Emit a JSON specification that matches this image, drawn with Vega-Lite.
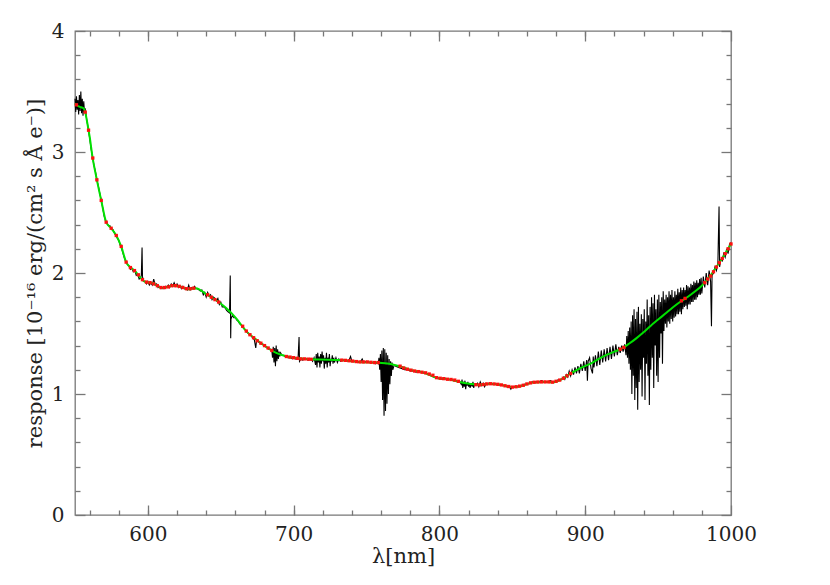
{
"$schema": "https://vega.github.io/schema/vega-lite/v6.json",
"width": 656, "height": 484,
"autosize": {"type": "none"},
"padding": {"left": 75, "top": 31, "right": 99, "bottom": 70},
"background": "white",
"config": {
 "view": {"stroke": "#777", "strokeWidth": 1.3},
 "axis": {"domain": false, "grid": false, "tickColor": "#777", "tickWidth": 1.3, "labelFont": "DejaVu Serif", "labelFontSize": 20, "labelColor": "#222", "labelFlush": false, "labelOverlap": false, "titleFont": "DejaVu Serif", "titleFontSize": 21, "titleFontWeight": "normal", "titleColor": "#222"}
},
"datasets": {
 "spec": [
{"wl":550,"r":3.44},{"wl":550.5,"r":3.33},{"wl":551,"r":3.46},{"wl":551.5,"r":3.35},{"wl":552,"r":3.43},{"wl":552.5,"r":3.31},{"wl":553,"r":3.47},{"wl":553.5,"r":3.34},{"wl":554,"r":3.5},{"wl":554.5,"r":3.32},{"wl":555,"r":3.44},{"wl":555.5,"r":3.3},{"wl":556,"r":3.42},{"wl":556.5,"r":3.33},{"wl":557,"r":3.36},
{"wl":558,"r":3.27},{"wl":559,"r":3.2},{"wl":560,"r":3.12},{"wl":561,"r":3.03},{"wl":562,"r":2.96},{"wl":563,"r":2.89},{"wl":564,"r":2.84},{"wl":565,"r":2.77},{"wl":566,"r":2.72},{"wl":567,"r":2.66},{"wl":568,"r":2.6},{"wl":569,"r":2.54},{"wl":570,"r":2.47},{"wl":571,"r":2.43},{"wl":572,"r":2.41},{"wl":573,"r":2.39},{"wl":574,"r":2.39},{"wl":575,"r":2.36},{"wl":576,"r":2.36},{"wl":577,"r":2.33},{"wl":578,"r":2.31},{"wl":579,"r":2.29},{"wl":580,"r":2.27},{"wl":581,"r":2.23},{"wl":582,"r":2.2},{"wl":583,"r":2.16},{"wl":584,"r":2.12},{"wl":585,"r":2.09},{"wl":586,"r":2.07},{"wl":587,"r":2.06},{"wl":588,"r":2.03},{"wl":589,"r":2.04},{"wl":590,"r":2.01},{"wl":591,"r":2.02},{"wl":592,"r":1.98},{"wl":593,"r":1.99},{"wl":594,"r":1.95},{"wl":595,"r":1.96},{"wl":595.5,"r":1.98},{"wl":596,"r":2.21},{"wl":596.3,"r":1.97},{"wl":597,"r":1.93},{"wl":598,"r":1.93},{"wl":599,"r":1.91},
{"wl":600,"r":1.93},{"wl":601,"r":1.9},{"wl":602,"r":1.92},{"wl":603,"r":1.9},{"wl":604,"r":1.95},{"wl":605,"r":1.9},{"wl":606,"r":1.91},{"wl":607,"r":1.88},{"wl":608,"r":1.89},{"wl":609,"r":1.87},{"wl":610,"r":1.88},{"wl":611,"r":1.87},{"wl":612,"r":1.89},{"wl":613,"r":1.88},{"wl":614,"r":1.9},{"wl":615,"r":1.88},{"wl":616,"r":1.91},{"wl":617,"r":1.89},{"wl":618,"r":1.92},{"wl":619,"r":1.89},{"wl":620,"r":1.91},{"wl":621,"r":1.88},{"wl":622,"r":1.89},{"wl":623,"r":1.87},{"wl":624,"r":1.89},{"wl":625,"r":1.87},{"wl":626,"r":1.88},{"wl":627,"r":1.86},{"wl":628,"r":1.9},{"wl":629,"r":1.86},{"wl":630,"r":1.88},{"wl":631,"r":1.87},{"wl":632,"r":1.89},{"wl":633,"r":1.87},{"wl":634,"r":1.87},{"wl":635,"r":1.86},{"wl":636,"r":1.85},{"wl":637,"r":1.86},{"wl":638,"r":1.82},{"wl":639,"r":1.84},{"wl":640,"r":1.8},{"wl":641,"r":1.84},{"wl":642,"r":1.81},{"wl":643,"r":1.82},{"wl":644,"r":1.78},{"wl":645,"r":1.8},{"wl":646,"r":1.79},{"wl":647,"r":1.77},{"wl":648,"r":1.79},{"wl":649,"r":1.74},{"wl":650,"r":1.76},{"wl":651,"r":1.72},{"wl":652,"r":1.72},{"wl":653,"r":1.71},{"wl":654,"r":1.69},{"wl":655,"r":1.68},{"wl":656,"r":1.67},{"wl":656.5,"r":1.98},{"wl":656.8,"r":1.46},{"wl":657,"r":1.62},{"wl":658,"r":1.65},{"wl":659,"r":1.63},{"wl":660,"r":1.63},{"wl":661,"r":1.61},{"wl":662,"r":1.6},{"wl":663,"r":1.58},{"wl":664,"r":1.57},{"wl":665,"r":1.56},{"wl":666,"r":1.54},{"wl":667,"r":1.53},{"wl":668,"r":1.51},{"wl":669,"r":1.5},{"wl":670,"r":1.49},{"wl":671,"r":1.48},{"wl":672,"r":1.46},{"wl":673,"r":1.45},{"wl":674,"r":1.38},{"wl":674.5,"r":1.44},{"wl":675,"r":1.44},{"wl":676,"r":1.43},{"wl":677,"r":1.42},{"wl":678,"r":1.41},{"wl":679,"r":1.41},{"wl":680,"r":1.4},{"wl":681,"r":1.39},{"wl":682,"r":1.38},{"wl":683,"r":1.37},{"wl":684,"r":1.37},{"wl":685,"r":1.36},{"wl":685.5,"r":1.3},{"wl":686,"r":1.39},{"wl":686.5,"r":1.26},{"wl":687,"r":1.38},{"wl":687.5,"r":1.23},{"wl":688,"r":1.4},{"wl":688.5,"r":1.27},{"wl":689,"r":1.37},{"wl":689.5,"r":1.29},{"wl":690,"r":1.35},{"wl":690.5,"r":1.31},{"wl":691,"r":1.34},{"wl":692,"r":1.32},{"wl":693,"r":1.32},{"wl":694,"r":1.31},{"wl":695,"r":1.31},{"wl":696,"r":1.3},{"wl":697,"r":1.3},{"wl":698,"r":1.3},{"wl":699,"r":1.29},
{"wl":700,"r":1.3},{"wl":701,"r":1.29},{"wl":702,"r":1.29},{"wl":703,"r":1.29},{"wl":703.7,"r":1.47},{"wl":704,"r":1.27},{"wl":705,"r":1.29},{"wl":706,"r":1.28},{"wl":708,"r":1.29},{"wl":710,"r":1.28},{"wl":712,"r":1.29},{"wl":713,"r":1.27},{"wl":714,"r":1.3},{"wl":715,"r":1.24},{"wl":715.5,"r":1.33},{"wl":716,"r":1.22},{"wl":716.5,"r":1.34},{"wl":717,"r":1.26},{"wl":717.5,"r":1.31},{"wl":718,"r":1.22},{"wl":718.5,"r":1.33},{"wl":719,"r":1.25},{"wl":719.5,"r":1.35},{"wl":720,"r":1.27},{"wl":720.5,"r":1.32},{"wl":721,"r":1.21},{"wl":721.5,"r":1.3},{"wl":722,"r":1.25},{"wl":722.5,"r":1.34},{"wl":723,"r":1.22},{"wl":723.5,"r":1.3},{"wl":724,"r":1.26},{"wl":724.5,"r":1.33},{"wl":725,"r":1.23},{"wl":725.5,"r":1.29},{"wl":726,"r":1.27},{"wl":726.5,"r":1.32},{"wl":727,"r":1.25},{"wl":727.5,"r":1.3},{"wl":728,"r":1.26},{"wl":729,"r":1.3},{"wl":730,"r":1.26},{"wl":731,"r":1.29},{"wl":732,"r":1.27},{"wl":734,"r":1.28},{"wl":736,"r":1.27},{"wl":738,"r":1.28},{"wl":739,"r":1.31},{"wl":740,"r":1.27},{"wl":742,"r":1.27},{"wl":744,"r":1.26},{"wl":746,"r":1.27},{"wl":747,"r":1.29},{"wl":748,"r":1.26},{"wl":750,"r":1.27},{"wl":752,"r":1.26},{"wl":754,"r":1.26},{"wl":756,"r":1.25},{"wl":757,"r":1.26},{"wl":758,"r":1.25},{"wl":758.5,"r":1.3},{"wl":759,"r":1.2},{"wl":759.5,"r":1.33},{"wl":760,"r":1.1},{"wl":760.5,"r":1.36},{"wl":761,"r":0.95},{"wl":761.5,"r":1.38},{"wl":762,"r":0.82},{"wl":762.5,"r":1.37},{"wl":763,"r":0.86},{"wl":763.5,"r":1.34},{"wl":764,"r":0.92},{"wl":764.5,"r":1.32},{"wl":765,"r":1.0},{"wl":765.5,"r":1.29},{"wl":766,"r":1.08},{"wl":766.5,"r":1.27},{"wl":767,"r":1.15},{"wl":767.5,"r":1.26},{"wl":768,"r":1.2},{"wl":769,"r":1.24},{"wl":770,"r":1.23},{"wl":772,"r":1.22},{"wl":774,"r":1.21},{"wl":776,"r":1.2},{"wl":778,"r":1.2},{"wl":780,"r":1.19},{"wl":782,"r":1.19},{"wl":784,"r":1.18},{"wl":786,"r":1.19},{"wl":788,"r":1.18},{"wl":790,"r":1.17},{"wl":792,"r":1.17},{"wl":794,"r":1.15},{"wl":796,"r":1.14},{"wl":798,"r":1.13},
{"wl":800,"r":1.13},{"wl":802,"r":1.12},{"wl":804,"r":1.13},{"wl":806,"r":1.12},{"wl":808,"r":1.12},{"wl":810,"r":1.11},{"wl":812,"r":1.11},{"wl":814,"r":1.1},{"wl":815,"r":1.08},{"wl":815.5,"r":1.12},{"wl":816,"r":1.05},{"wl":816.5,"r":1.1},{"wl":817,"r":1.06},{"wl":817.5,"r":1.11},{"wl":818,"r":1.04},{"wl":818.5,"r":1.09},{"wl":819,"r":1.07},{"wl":819.5,"r":1.1},{"wl":820,"r":1.06},{"wl":820.5,"r":1.09},{"wl":821,"r":1.05},{"wl":822,"r":1.09},{"wl":822.5,"r":1.06},{"wl":823,"r":1.1},{"wl":823.5,"r":1.05},{"wl":824,"r":1.08},{"wl":825,"r":1.07},{"wl":826,"r":1.09},{"wl":827,"r":1.06},{"wl":828,"r":1.1},{"wl":829,"r":1.07},{"wl":830,"r":1.09},{"wl":831,"r":1.06},{"wl":832,"r":1.09},{"wl":833,"r":1.08},{"wl":834,"r":1.09},{"wl":836,"r":1.08},{"wl":838,"r":1.08},{"wl":840,"r":1.08},{"wl":842,"r":1.07},{"wl":844,"r":1.07},{"wl":846,"r":1.06},{"wl":848,"r":1.06},{"wl":849,"r":1.04},{"wl":850,"r":1.06},{"wl":852,"r":1.06},{"wl":854,"r":1.06},{"wl":856,"r":1.07},{"wl":858,"r":1.08},{"wl":860,"r":1.08},{"wl":862,"r":1.09},{"wl":864,"r":1.1},{"wl":866,"r":1.1},{"wl":868,"r":1.1},{"wl":870,"r":1.11},{"wl":872,"r":1.1},{"wl":874,"r":1.1},{"wl":876,"r":1.11},{"wl":878,"r":1.1},{"wl":880,"r":1.11},{"wl":882,"r":1.12},{"wl":884,"r":1.12},{"wl":885,"r":1.14},{"wl":886,"r":1.12},{"wl":887,"r":1.16},{"wl":888,"r":1.14},{"wl":889,"r":1.19},{"wl":890,"r":1.15},{"wl":891,"r":1.2},{"wl":892,"r":1.16},{"wl":893,"r":1.22},{"wl":894,"r":1.17},{"wl":895,"r":1.23},{"wl":896,"r":1.17},{"wl":897,"r":1.25},{"wl":898,"r":1.19},{"wl":899,"r":1.27},{"wl":900,"r":1.19},{"wl":901,"r":1.28},{"wl":901.5,"r":1.11},{"wl":902,"r":1.27},{"wl":903,"r":1.3},{"wl":904,"r":1.21},{"wl":905,"r":1.17},{"wl":905.5,"r":1.31},{"wl":906,"r":1.22},{"wl":907,"r":1.32},{"wl":908,"r":1.23},{"wl":909,"r":1.35},{"wl":910,"r":1.24},{"wl":911,"r":1.36},{"wl":912,"r":1.26},{"wl":913,"r":1.37},{"wl":914,"r":1.27},{"wl":915,"r":1.38},{"wl":916,"r":1.28},{"wl":917,"r":1.39},{"wl":918,"r":1.29},{"wl":919,"r":1.4},{"wl":920,"r":1.31},{"wl":921,"r":1.41},{"wl":922,"r":1.32},{"wl":923,"r":1.39},{"wl":924,"r":1.34},{"wl":925,"r":1.4},{"wl":926,"r":1.35},{"wl":927,"r":1.41},{"wl":928,"r":1.32},{"wl":928.5,"r":1.48},{"wl":929,"r":1.3},{"wl":929.5,"r":1.52},{"wl":930,"r":1.25},{"wl":930.5,"r":1.55},{"wl":931,"r":1.2},{"wl":931.5,"r":1.6},{"wl":932,"r":1.0},{"wl":932.5,"r":1.65},{"wl":933,"r":1.15},{"wl":933.5,"r":1.7},{"wl":934,"r":0.95},{"wl":934.5,"r":1.62},{"wl":935,"r":1.05},{"wl":935.5,"r":1.68},{"wl":936,"r":0.87},{"wl":936.5,"r":1.72},{"wl":937,"r":1.1},{"wl":937.5,"r":1.58},{"wl":938,"r":1.2},{"wl":938.5,"r":1.66},{"wl":939,"r":0.98},{"wl":939.5,"r":1.62},{"wl":940,"r":1.3},{"wl":940.5,"r":1.7},{"wl":941,"r":0.95},{"wl":941.5,"r":1.6},{"wl":942,"r":1.25},{"wl":942.5,"r":1.78},{"wl":943,"r":1.15},{"wl":943.5,"r":1.65},{"wl":944,"r":0.91},{"wl":944.5,"r":1.72},{"wl":945,"r":1.2},{"wl":945.5,"r":1.8},{"wl":946,"r":1.3},{"wl":946.5,"r":1.75},{"wl":947,"r":1.05},{"wl":947.5,"r":1.82},{"wl":948,"r":1.4},{"wl":948.5,"r":1.7},{"wl":949,"r":1.15},{"wl":949.5,"r":1.78},{"wl":950,"r":1.1},{"wl":950.5,"r":1.82},{"wl":951,"r":1.3},{"wl":951.5,"r":1.76},{"wl":952,"r":1.5},{"wl":952.5,"r":1.8},{"wl":953,"r":1.25},{"wl":953.5,"r":1.85},{"wl":954,"r":1.52},{"wl":954.5,"r":1.78},{"wl":955,"r":1.58},{"wl":955.5,"r":1.82},{"wl":956,"r":1.55},{"wl":956.5,"r":1.8},{"wl":957,"r":1.6},{"wl":957.5,"r":1.85},{"wl":958,"r":1.58},{"wl":958.5,"r":1.82},{"wl":959,"r":1.62},{"wl":959.5,"r":1.86},{"wl":960,"r":1.6},{"wl":960.5,"r":1.8},{"wl":961,"r":1.63},{"wl":961.5,"r":1.85},{"wl":962,"r":1.64},{"wl":962.5,"r":1.82},{"wl":963,"r":1.66},{"wl":963.5,"r":1.87},{"wl":964,"r":1.66},{"wl":964.5,"r":1.84},{"wl":965,"r":1.68},{"wl":965.5,"r":1.88},{"wl":966,"r":1.66},{"wl":966.5,"r":1.86},{"wl":967,"r":1.7},{"wl":967.5,"r":1.88},{"wl":968,"r":1.72},{"wl":968.5,"r":1.86},{"wl":969,"r":1.73},{"wl":969.5,"r":1.9},{"wl":970,"r":1.7},{"wl":970.5,"r":1.89},{"wl":971,"r":1.74},{"wl":971.5,"r":1.88},{"wl":972,"r":1.74},{"wl":972.5,"r":1.91},{"wl":973,"r":1.76},{"wl":973.5,"r":1.9},{"wl":974,"r":1.76},{"wl":974.5,"r":1.93},{"wl":975,"r":1.78},{"wl":975.5,"r":1.92},{"wl":976,"r":1.78},{"wl":976.5,"r":1.94},{"wl":977,"r":1.8},{"wl":977.5,"r":1.92},{"wl":978,"r":1.82},{"wl":978.5,"r":1.95},{"wl":979,"r":1.82},{"wl":979.5,"r":1.96},{"wl":980,"r":1.83},{"wl":981,"r":1.97},{"wl":982,"r":1.88},{"wl":983,"r":2.0},{"wl":984,"r":1.9},{"wl":985,"r":2.02},{"wl":986,"r":1.93},{"wl":986.6,"r":1.56},{"wl":987,"r":1.98},{"wl":988,"r":2.0},{"wl":989,"r":2.05},{"wl":990,"r":2.02},{"wl":991,"r":2.08},{"wl":991.8,"r":2.55},{"wl":992.2,"r":2.05},{"wl":993,"r":2.11},{"wl":994,"r":2.1},{"wl":995,"r":2.16},{"wl":996,"r":2.13},{"wl":997,"r":2.2},{"wl":998,"r":2.16},{"wl":999,"r":2.24},{"wl":1000,"r":2.25}
 ],
 "fit": [
{"wl":550,"r":3.4},{"wl":552,"r":3.38},{"wl":554,"r":3.37},{"wl":556,"r":3.36},{"wl":557,"r":3.33},{"wl":558,"r":3.27},{"wl":559.3,"r":3.18},{"wl":560,"r":3.13},{"wl":562,"r":2.96},{"wl":565,"r":2.77},{"wl":568,"r":2.6},{"wl":571.4,"r":2.42},{"wl":574.8,"r":2.37},{"wl":578.3,"r":2.31},{"wl":581.7,"r":2.22},{"wl":585.1,"r":2.09},{"wl":588,"r":2.045},{"wl":590.8,"r":2.02},{"wl":595,"r":1.96},{"wl":597.7,"r":1.93},{"wl":603.4,"r":1.915},{"wl":610,"r":1.875},{"wl":617,"r":1.895},{"wl":621.7,"r":1.89},{"wl":627.4,"r":1.865},{"wl":633,"r":1.875},{"wl":640,"r":1.825},{"wl":646.8,"r":1.775},{"wl":653.7,"r":1.71},{"wl":660.6,"r":1.625},{"wl":667.4,"r":1.52},{"wl":674.3,"r":1.45},{"wl":681.1,"r":1.39},{"wl":688,"r":1.34},{"wl":697,"r":1.305},{"wl":708.6,"r":1.29},{"wl":717.7,"r":1.285},{"wl":731,"r":1.28},{"wl":745,"r":1.265},{"wl":756.6,"r":1.26},{"wl":765.7,"r":1.25},{"wl":772.6,"r":1.23},{"wl":781.7,"r":1.195},{"wl":788.5,"r":1.18},{"wl":797.7,"r":1.135},{"wl":806.9,"r":1.12},{"wl":813.7,"r":1.1},{"wl":820.6,"r":1.085},{"wl":827.4,"r":1.075},{"wl":834.3,"r":1.085},{"wl":841.1,"r":1.078},{"wl":850.3,"r":1.057},{"wl":857.1,"r":1.07},{"wl":864,"r":1.095},{"wl":870.9,"r":1.1},{"wl":877.7,"r":1.097},{"wl":883.5,"r":1.12},{"wl":889.2,"r":1.165},{"wl":896,"r":1.21},{"wl":905,"r":1.26},{"wl":910,"r":1.295},{"wl":915,"r":1.325},{"wl":920,"r":1.35},{"wl":925,"r":1.375},{"wl":930,"r":1.415},{"wl":935,"r":1.46},{"wl":940,"r":1.51},{"wl":945,"r":1.565},{"wl":950,"r":1.615},{"wl":955,"r":1.665},{"wl":960,"r":1.715},{"wl":965,"r":1.76},{"wl":970,"r":1.8},{"wl":975,"r":1.845},{"wl":980,"r":1.895},{"wl":985,"r":1.965},{"wl":990,"r":2.05},{"wl":995,"r":2.14},{"wl":1000,"r":2.24}
 ],
 "pts": [
{"wl":551,"r":3.39},{"wl":557,"r":3.33},{"wl":559.3,"r":3.18},{"wl":562.2,"r":2.95},{"wl":565,"r":2.77},{"wl":568,"r":2.6},{"wl":571.4,"r":2.42},{"wl":574.8,"r":2.37},{"wl":578.3,"r":2.31},{"wl":581.7,"r":2.22},{"wl":585.1,"r":2.09},{"wl":588,"r":2.045},{"wl":590.8,"r":2.02},{"wl":593.5,"r":1.985},{"wl":596.3,"r":1.945},{"wl":599,"r":1.925},{"wl":601.5,"r":1.92},{"wl":604,"r":1.91},{"wl":606.5,"r":1.895},{"wl":609,"r":1.88},{"wl":611.5,"r":1.88},{"wl":614,"r":1.885},{"wl":616.5,"r":1.895},{"wl":619,"r":1.895},{"wl":621.5,"r":1.89},{"wl":624,"r":1.88},{"wl":626.5,"r":1.87},{"wl":629,"r":1.87},{"wl":631.5,"r":1.875},{"wl":641,"r":1.82},{"wl":643.5,"r":1.8},{"wl":646,"r":1.78},{"wl":648.5,"r":1.76},{"wl":665,"r":1.56},{"wl":667.5,"r":1.52},{"wl":670,"r":1.49},{"wl":672.5,"r":1.465},{"wl":675,"r":1.44},{"wl":677.5,"r":1.42},{"wl":680,"r":1.4},{"wl":682.5,"r":1.38},{"wl":685,"r":1.36},{"wl":695,"r":1.31},{"wl":697.5,"r":1.305},{"wl":700,"r":1.3},{"wl":702.5,"r":1.295},{"wl":705,"r":1.29},{"wl":707.5,"r":1.29},{"wl":710,"r":1.288},{"wl":712,"r":1.287},{"wl":733,"r":1.28},{"wl":735.5,"r":1.278},{"wl":738,"r":1.275},{"wl":740.5,"r":1.272},{"wl":743,"r":1.268},{"wl":745.5,"r":1.265},{"wl":748,"r":1.265},{"wl":750.5,"r":1.265},{"wl":753,"r":1.262},{"wl":755.5,"r":1.26},{"wl":758,"r":1.26},{"wl":773,"r":1.23},{"wl":775.5,"r":1.215},{"wl":778,"r":1.205},{"wl":780.5,"r":1.197},{"wl":783,"r":1.19},{"wl":785.5,"r":1.185},{"wl":788,"r":1.18},{"wl":790.5,"r":1.175},{"wl":793,"r":1.165},{"wl":795.5,"r":1.155},{"wl":798,"r":1.135},{"wl":800.5,"r":1.13},{"wl":803,"r":1.127},{"wl":805.5,"r":1.122},{"wl":808,"r":1.12},{"wl":810.5,"r":1.115},{"wl":813,"r":1.105},{"wl":825,"r":1.077},{"wl":827.5,"r":1.075},{"wl":830,"r":1.078},{"wl":832.5,"r":1.083},{"wl":835,"r":1.085},{"wl":837.5,"r":1.083},{"wl":840,"r":1.08},{"wl":842.5,"r":1.075},{"wl":845,"r":1.068},{"wl":847.5,"r":1.062},{"wl":850,"r":1.057},{"wl":852.5,"r":1.06},{"wl":855,"r":1.065},{"wl":857.5,"r":1.072},{"wl":860,"r":1.083},{"wl":862.5,"r":1.092},{"wl":865,"r":1.097},{"wl":867.5,"r":1.099},{"wl":870,"r":1.1},{"wl":872.5,"r":1.1},{"wl":875,"r":1.1},{"wl":877.5,"r":1.098},{"wl":880,"r":1.105},{"wl":882.5,"r":1.115},{"wl":885,"r":1.13},{"wl":887.5,"r":1.15},{"wl":890,"r":1.17},{"wl":924,"r":1.37},{"wl":926.5,"r":1.385},{"wl":966,"r":1.77},{"wl":968.5,"r":1.79},{"wl":982,"r":1.92},{"wl":984,"r":1.95},{"wl":986,"r":1.975},{"wl":988,"r":2.01},{"wl":990,"r":2.05},{"wl":992,"r":2.085},{"wl":994,"r":2.12},{"wl":996,"r":2.16},{"wl":998,"r":2.2},{"wl":1000,"r":2.24}
 ]
},
"resolve": {"axis": {"x": "independent", "y": "independent"}},
"layer": [
 {
  "data": {"name": "spec"},
  "mark": {"type": "line", "color": "black", "strokeWidth": 1.1},
  "encoding": {
   "x": {"field": "wl", "type": "quantitative", "scale": {"domain": [550, 1000], "nice": false, "zero": false},
         "axis": {"orient": "bottom", "values": [600, 700, 800, 900, 1000], "format": "d", "ticks": false, "tickSize": 0, "labelPadding": 9, "title": "λ[nm]", "titlePadding": 1}},
   "y": {"field": "r", "type": "quantitative", "scale": {"domain": [0, 4], "nice": false, "zero": false},
         "axis": {"orient": "left", "values": [0, 1, 2, 3, 4], "format": "d", "ticks": false, "tickSize": 0, "labelPadding": 11, "title": "response [10⁻¹⁶ erg/(cm² s Å e⁻)]", "titlePadding": 6}}
  }
 },
 {
  "data": {"name": "fit"},
  "mark": {"type": "line", "color": "#00e000", "strokeWidth": 2, "interpolate": "monotone"},
  "encoding": {
   "x": {"field": "wl", "type": "quantitative", "scale": {"domain": [550, 1000], "nice": false, "zero": false},
         "axis": {"orient": "bottom", "values": [600, 700, 800, 900, 1000], "labels": false, "tickSize": -10, "title": null}},
   "y": {"field": "r", "type": "quantitative", "scale": {"domain": [0, 4], "nice": false, "zero": false},
         "axis": {"orient": "left", "values": [0, 1, 2, 3, 4], "labels": false, "tickSize": -10, "title": null}}
  }
 },
 {
  "data": {"name": "pts"},
  "mark": {"type": "point", "filled": true, "shape": "square", "color": "#ff1010", "size": 11, "opacity": 1},
  "encoding": {
   "x": {"field": "wl", "type": "quantitative", "scale": {"domain": [550, 1000], "nice": false, "zero": false},
         "axis": {"orient": "bottom", "values": [560, 580, 600, 620, 640, 660, 680, 700, 720, 740, 760, 780, 800, 820, 840, 860, 880, 900, 920, 940, 960, 980], "labels": false, "tickSize": -5, "title": null}},
   "y": {"field": "r", "type": "quantitative", "scale": {"domain": [0, 4], "nice": false, "zero": false},
         "axis": {"orient": "left", "values": [0.2, 0.4, 0.6, 0.8, 1.2, 1.4, 1.6, 1.8, 2.2, 2.4, 2.6, 2.8, 3.2, 3.4, 3.6, 3.8], "labels": false, "tickSize": -5, "title": null}}
  }
 },
 {
  "data": {"name": "fit"},
  "mark": {"type": "point", "opacity": 0},
  "encoding": {
   "x": {"field": "wl", "type": "quantitative", "scale": {"domain": [550, 1000], "nice": false, "zero": false},
         "axis": {"orient": "top", "values": [600, 700, 800, 900, 1000], "labels": false, "tickSize": -10, "title": null}},
   "y": {"field": "r", "type": "quantitative", "scale": {"domain": [0, 4], "nice": false, "zero": false},
         "axis": {"orient": "right", "values": [0, 1, 2, 3, 4], "labels": false, "tickSize": -10, "title": null}}
  }
 },
 {
  "data": {"name": "fit"},
  "mark": {"type": "point", "opacity": 0},
  "encoding": {
   "x": {"field": "wl", "type": "quantitative", "scale": {"domain": [550, 1000], "nice": false, "zero": false},
         "axis": {"orient": "top", "values": [560, 580, 600, 620, 640, 660, 680, 700, 720, 740, 760, 780, 800, 820, 840, 860, 880, 900, 920, 940, 960, 980], "labels": false, "tickSize": -5, "title": null}},
   "y": {"field": "r", "type": "quantitative", "scale": {"domain": [0, 4], "nice": false, "zero": false},
         "axis": {"orient": "right", "values": [0.2, 0.4, 0.6, 0.8, 1.2, 1.4, 1.6, 1.8, 2.2, 2.4, 2.6, 2.8, 3.2, 3.4, 3.6, 3.8], "labels": false, "tickSize": -5, "title": null}}
  }
 }
]
}
